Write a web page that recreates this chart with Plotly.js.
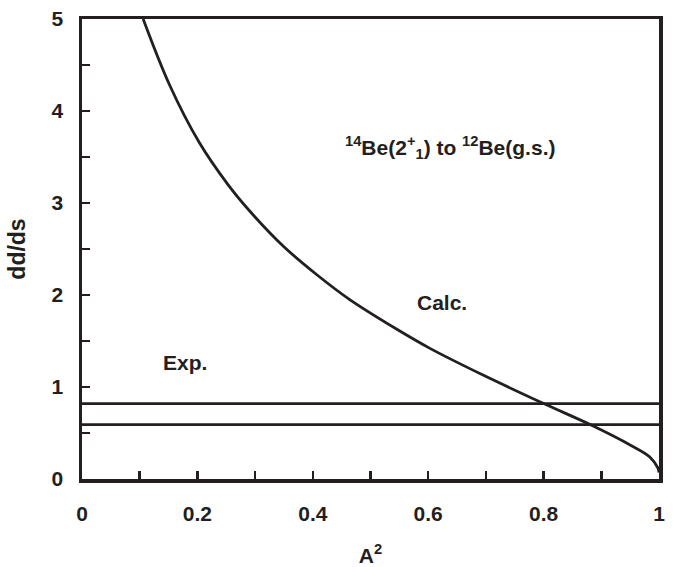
<!DOCTYPE html>
<html>
<head>
<meta charset="utf-8">
<script src="https://cdn.plot.ly/plotly-3.0.1.min.js"></script>
<style>html,body{margin:0;padding:0;background:#fff;}#chart{width:673px;height:567px;}</style>
</head>
<body>
<div id="chart"></div>
<script>
// Calculated curve
const calcX = [0.106, 0.152, 0.203, 0.253, 0.291, 0.349, 0.407, 0.464, 0.545, 0.603, 0.695, 0.802, 0.886, 0.95, 0.984, 0.998, 1.0];
const calcY = [5.0, 4.28, 3.66, 3.20, 2.91, 2.53, 2.22, 1.95, 1.63, 1.42, 1.13, 0.815, 0.576, 0.37, 0.24, 0.12, 0.07];
// Experimental limits
const expX = [0, 1];
const expHigh = [0.82, 0.82];
const expLow = [0.59, 0.59];

const ink = '#231f20';
const fam = 'Liberation Sans, Arial, sans-serif';
const tickFont = {family: fam, size: 21, color: ink, weight: 'bold'};
const annFont = {family: fam, size: 21, color: ink, weight: 'bold'};
const yTitleFont = {family: fam, size: 23, color: ink, weight: 'bold'};
const xTitleFont = {family: fam, size: 21, color: ink, weight: 'bold'};

const traces = [
  {x: calcX, y: calcY, mode: 'lines', line: {color: ink, width: 2.8, shape: 'spline', smoothing: 1}, showlegend: false},
  {x: expX, y: expHigh, mode: 'lines', line: {color: ink, width: 2.8}, showlegend: false},
  {x: expX, y: expLow, mode: 'lines', line: {color: ink, width: 2.8}, showlegend: false}
];

const layout = {
  width: 673, height: 567,
  margin: {l: 82, r: 14, t: 19, b: 88},
  paper_bgcolor: '#fff', plot_bgcolor: '#fff',
  font: tickFont,
  xaxis: {
    range: [0, 1], tickvals: [0, 0.2, 0.4, 0.6, 0.8, 1], ticktext: ['0', '0.2', '0.4', '0.6', '0.8', '1'],
    showgrid: false, zeroline: false,
    showline: true, linecolor: ink, linewidth: 3.5, mirror: true,
    ticks: 'inside', ticklen: 8, tickwidth: 2.5, tickcolor: ink,
    minor: {dtick: 0.1, ticks: 'inside', ticklen: 8, tickwidth: 2.5, tickcolor: ink, showgrid: false},
    tickfont: tickFont, ticklabelstandoff: 13,
    title: {text: 'A<sup>2</sup>', font: xTitleFont, standoff: 35}
  },
  yaxis: {
    range: [0, 5], dtick: 1,
    showgrid: false, zeroline: false,
    showline: true, linecolor: ink, linewidth: 3.5, mirror: true,
    ticks: 'inside', ticklen: 8, tickwidth: 2.5, tickcolor: ink,
    minor: {dtick: 0.5, ticks: 'inside', ticklen: 8, tickwidth: 2.5, tickcolor: ink, showgrid: false},
    tickfont: tickFont, ticklabelstandoff: 11,
    title: {text: 'dd/ds', font: yTitleFont, standoff: 20}
  },
  annotations: [
    {x: 0.638, y: 3.6, xref: 'x', yref: 'y', showarrow: false, font: annFont,
     text: '<sup>14</sup>Be(2<sup>+</sup><sub>1</sub>) to <sup>12</sup>Be(g.s.)'},
    {x: 0.624, y: 1.92, xref: 'x', yref: 'y', showarrow: false, font: annFont, text: 'Calc.'},
    {x: 0.178, y: 1.27, xref: 'x', yref: 'y', showarrow: false, font: annFont, text: 'Exp.'}
  ]
};

Plotly.newPlot('chart', traces, layout, {displayModeBar: false, staticPlot: true});
</script>
</body>
</html>
